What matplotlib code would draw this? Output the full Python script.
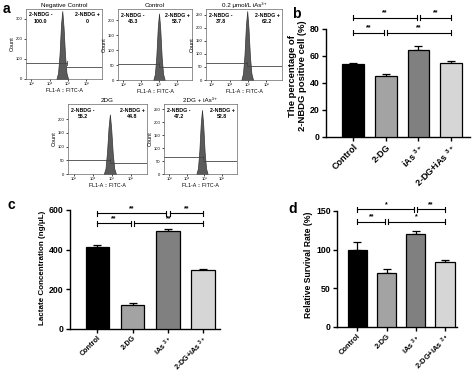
import numpy as np
import matplotlib.pyplot as plt

plt.rcParams['font.family'] = ['Liberation Sans', 'DejaVu Sans']
plt.rcParams['mathtext.fontset'] = 'custom'
plt.rcParams['mathtext.rm'] = 'Liberation Sans:bold'
plt.rcParams['mathtext.bf'] = 'Liberation Sans:bold'
plt.rcParams['mathtext.default'] = 'rm'

W, H = 474, 374
fig = plt.figure(figsize=(W / 100, H / 100), dpi=100)

# ---- panel a: flow histograms (log10 FL1-A position, counts) ----
hist_titles = ['Negative Control', 'Control', '0.2 μmol/L iAs³⁺', '2DG', '2DG + iAs³⁺']
hist_x = [
    [4.36, 4.45, 4.53, 4.61, 4.68, 4.75, 4.83, 4.91, 5.00],
    [4.68, 4.77, 4.85, 4.93, 5.00, 5.07, 5.15, 5.23, 5.32],
    [4.63, 4.72, 4.80, 4.88, 4.95, 5.02, 5.10, 5.18, 5.27],
    [4.58, 4.67, 4.75, 4.83, 4.90, 4.97, 5.05, 5.13, 5.22],
    [4.54, 4.63, 4.71, 4.79, 4.86, 4.93, 5.01, 5.09, 5.18],
]
hist_counts = [
    [0, 30, 120, 270, 340, 260, 120, 30, 0],
    [0, 20, 80, 175, 222, 170, 75, 20, 0],
    [0, 25, 95, 210, 265, 200, 90, 25, 0],
    [0, 20, 80, 170, 218, 165, 75, 20, 0],
    [0, 22, 90, 195, 248, 190, 85, 22, 0],
]
hist_ymax = [350, 237, 273, 256, 271]
hist_yticks = [[0, 100, 200, 300], [0, 50, 100, 150, 200], [0, 50, 100, 150, 200, 250],
               [0, 50, 100, 150, 200], [0, 50, 100, 150, 200, 250]]
gate_split = [4.95, 5.0, 4.95, 4.9, 4.9]
gate_left = [80, 53, 65, 50, 65]
gate_right = [60, 43, 52, 40, 52]
neg_pct = ['100.0', '46.3', '37.8', '55.2', '47.2']
pos_pct = ['0', '53.7', '62.2', '44.8', '52.8']
hist_boxes = [(26, 9, 102, 79), (118, 9, 192, 80), (206, 9, 282, 80),
              (68, 104, 147, 174), (164, 104, 237, 174)]

# ---- panels b, c, d ----
groups = ['Control', '2-DG', 'iAs $^{3+}$', '2-DG+iAs $^{3+}$']
nbdg_pct = [54, 45, 64.5, 54.5]
nbdg_err = [0.7, 1.6, 2.6, 1.8]
lactate = [415, 120, 495, 298]
lactate_err = [6, 9, 11, 6]
survival = [99, 70, 120, 84]
survival_err = [11, 5, 4, 2]
sig_b = [(0, 2, 88, '**'), (2, 3, 88, '**'), (0, 1, 77, '**'), (1, 3, 77, '**')]
sig_c = [(0, 2, 583, '**'), (2, 3, 583, '**'), (0, 1, 533, '**'), (1, 3, 533, '**')]
sig_d = [(0, 2, 152, '*'), (2, 3, 152, '**'), (0, 1, 136, '**'), (1, 3, 136, '*')]
bar_colors = ['#000000', '#a3a3a3', '#808080', '#d6d6d6']


def px_axes(x0, y0, x1, y1):
    return fig.add_axes([x0 / W, 1 - y1 / H, (x1 - x0) / W, (y1 - y0) / H])


for i in range(5):
    ax = px_axes(*hist_boxes[i])
    ax.fill_between(hist_x[i], hist_counts[i], color='#5b5b5b', lw=0.5, edgecolor='#333333')
    ax.set_xlim(2.7, 6.85)
    ax.set_ylim(0, hist_ymax[i])
    s = gate_split[i]
    ax.plot([2.7, s], [gate_left[i], gate_left[i]], color='#444444', lw=0.6)
    ax.plot([s, 6.85], [gate_right[i], gate_right[i]], color='#444444', lw=0.6)
    ax.plot([s, s], [gate_left[i] - 6 * hist_ymax[i] / 270, gate_left[i] + 6 * hist_ymax[i] / 270],
            color='#444444', lw=0.6)
    ax.set_xticks([3, 4, 5, 6])
    ax.set_xticklabels(['10³', '10⁴', '10⁵', '10⁶'])
    ax.set_yticks(hist_yticks[i])
    ax.tick_params(labelsize=3, length=1.5, width=0.5, pad=1)
    for sp in ax.spines.values():
        sp.set_linewidth(0.5)
        sp.set_color('#666666')
    ax.set_title(hist_titles[i], fontsize=4.5, pad=1.5)
    ax.set_ylabel('Count', fontsize=4, labelpad=1)
    ax.set_xlabel('FL1-A :: FITC-A', fontsize=3.8, labelpad=1)
    ax.text(0.04, 0.95, '2-NBDG -\n' + neg_pct[i], transform=ax.transAxes, fontsize=3.8,
            va='top', ha='left', linespacing=1.3, multialignment='center', fontweight='bold')
    ax.text(0.97, 0.95, '2-NBDG +\n' + pos_pct[i], transform=ax.transAxes, fontsize=3.8,
            va='top', ha='right', linespacing=1.3, multialignment='center', fontweight='bold')


def bar_panel(box, vals, errs, xlim, ylim, yticks, ylabel, ylsize, sigs, xtsize):
    ax = px_axes(*box)
    x = np.arange(len(vals))
    ax.bar(x, vals, width=0.66, color=bar_colors, edgecolor='black', linewidth=0.9, zorder=3)
    ax.errorbar(x, vals, yerr=[np.zeros(len(vals)), errs], fmt='none', ecolor='black',
                elinewidth=0.9, capsize=3, capthick=0.9, zorder=2)
    ax.set_xlim(*xlim)
    ax.set_ylim(*ylim)
    ax.set_yticks(yticks)
    ax.spines['top'].set_visible(False)
    ax.spines['right'].set_visible(False)
    ax.spines['left'].set_bounds(0, yticks[-1])
    for sp in ax.spines.values():
        sp.set_linewidth(1.0)
    ax.set_xticks(x)
    ax.set_xticklabels(groups, rotation=45, ha='right', rotation_mode='anchor',
                       fontweight='bold', fontsize=xtsize)
    ax.tick_params(axis='y', labelsize=6.3, length=3, width=1, pad=1.5)
    ax.tick_params(axis='x', length=3, width=1, pad=1)
    for lab in ax.get_yticklabels():
        lab.set_fontweight('bold')
    ax.set_ylabel(ylabel, fontsize=ylsize, fontweight='bold', labelpad=2)
    hpx = box[3] - box[1]
    cap = 2.5 * (ylim[1] - ylim[0]) / hpx
    for a, b, y, t in sigs:
        xa = a + (0.05 if a in (1, 2) else 0)
        xb = b - (0.05 if b in (1, 2) else 0)
        ax.plot([xa, xb], [y, y], color='black', lw=0.8, clip_on=False)
        for xx in (xa, xb):
            ax.plot([xx, xx], [y - cap, y + cap], color='black', lw=0.8, clip_on=False)
        ax.text((xa + xb) / 2, y + cap * 0.4, t, ha='center', va='bottom', fontsize=5,
                fontweight='bold')
    return ax


bar_panel((326, 15, 470, 137), nbdg_pct, nbdg_err, (-0.83, 3.58), (0, 90),
          [0, 20, 40, 60, 80], 'The percentage of\n2-NBDG positive cell (%)', 6.8, sig_b, 6.5)
bar_panel((70, 206, 220, 329), lactate, lactate_err, (-0.78, 3.48), (0, 620),
          [0, 200, 400, 600], 'Lactate Concentration (ng/μL)', 5.8, sig_c, 5.2)
bar_panel((337, 203, 457, 327), survival, survival_err, (-0.7, 3.41), (0, 160),
          [0, 50, 100, 150], 'Relative Survival Rate (%)', 6.2, sig_d, 5.4)

for lab, x, y in [('a', 3, 9), ('b', 292, 14), ('c', 8, 205), ('d', 288, 209)]:
    fig.text(x / W, 1 - y / H, lab, fontsize=10, fontweight='bold', va='center', ha='left')

fig.savefig('out.png', dpi=100)
